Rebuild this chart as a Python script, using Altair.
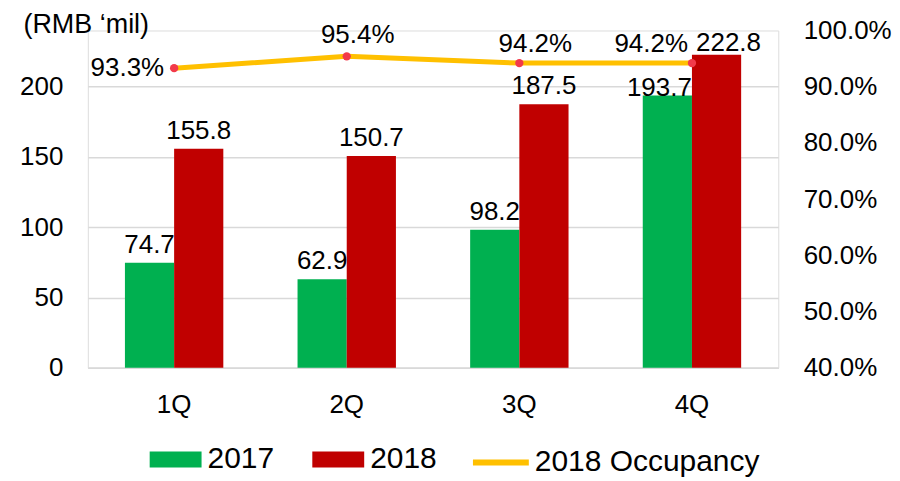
import altair as alt
import pandas as pd

# ---- data ----
quarters = ["1Q", "2Q", "3Q", "4Q"]
series = ["2017", "2018"]
revenue_2017 = [74.7, 62.9, 98.2, 193.7]
revenue_2018 = [155.8, 150.7, 187.5, 222.8]
occupancy_2018 = [0.933, 0.954, 0.942, 0.942]
occupancy_name = "2018 Occupancy"
left_ticks = [0, 50, 100, 150, 200]
right_ticks = [0.4, 0.5, 0.6, 0.7, 0.8, 0.9, 1.0]

bars_df = pd.DataFrame({
    "quarter": quarters * 2,
    "series": [series[0]] * len(quarters) + [series[1]] * len(quarters),
    "value": revenue_2017 + revenue_2018,
})
occ_df = pd.DataFrame({"quarter": quarters, "occ": occupancy_2018, "name": occupancy_name})

FONT = "Liberation Sans"
GREEN = "#00B050"
RED = "#C00000"
GOLD = "#FFC000"
DOT = "#F23A4A"
GRID = "#D9D9D9"

x_enc = alt.X(
    "quarter:N", sort=quarters,
    scale=alt.Scale(paddingInner=0.43, paddingOuter=0.215),
    axis=alt.Axis(title=None, labelAngle=0, labelFontSize=26, labelFont=FONT,
                  labelColor="black", labelPadding=24, ticks=False, domain=True,
                  domainColor=GRID, domainWidth=1.5),
)
xoff = alt.XOffset("series:N", sort=series, scale=alt.Scale(paddingInner=0, paddingOuter=0))

y_left = alt.Y(
    "value:Q",
    scale=alt.Scale(domain=[0, 240], nice=False, zero=True),
    axis=alt.Axis(title="(RMB \u2018mil)", titleAngle=0, titleX=-65, titleY=-6,
                  titleAlign="left", titleBaseline="middle", titleFontSize=27,
                  titleFontWeight="normal", titleFont=FONT, titleColor="black",
                  titleLimit=400,
                  values=left_ticks, labelFontSize=26, labelFont=FONT, labelColor="black",
                  labelPadding=25, ticks=False, domain=False, grid=True,
                  gridColor=GRID, gridWidth=1.5),
)

base_bars = alt.Chart(bars_df).encode(x=x_enc, xOffset=xoff, y=y_left)

bars = base_bars.mark_bar().encode(
    color=alt.Color(
        "series:N", sort=series,
        scale=alt.Scale(domain=series, range=[GREEN, RED]),
        legend=alt.Legend(title=None, orient="none", legendX=72, legendY=414,
                          direction="horizontal",
                          symbolType="M-1.625,-0.5H1.625V0.5H-1.625Z",
                          symbolSize=1024, symbolStrokeWidth=0, symbolOpacity=1,
                          labelFontSize=30, labelFont=FONT, labelColor="black",
                          labelOffset=16, columnPadding=38, padding=0, labelLimit=400),
    )
)

label_style = dict(fontSize=26, font=FONT, color="black", align="center", baseline="alphabetic")
bar_text_main = base_bars.transform_filter(alt.datum.quarter != "4Q").mark_text(dy=-10, **label_style).encode(
    text=alt.Text("value:Q", format=".1f"))
bar_text_4q17 = base_bars.transform_filter(
    (alt.datum.quarter == "4Q") & (alt.datum.series == "2017")
).mark_text(dx=-8, dy=0, **label_style).encode(text=alt.Text("value:Q", format=".1f"))
bar_text_4q18 = base_bars.transform_filter(
    (alt.datum.quarter == "4Q") & (alt.datum.series == "2018")
).mark_text(dx=12, dy=-4, **label_style).encode(text=alt.Text("value:Q", format=".1f"))

y_right = alt.Y(
    "occ:Q",
    scale=alt.Scale(domain=[0.4, 1.0], nice=False, zero=False),
    axis=alt.Axis(orient="right", title=None, values=right_ticks, format=".1%",
                  labelFontSize=26, labelFont=FONT, labelColor="black",
                  labelPadding=25, ticks=False, domain=False, grid=False),
)

base_occ = alt.Chart(occ_df).encode(x=x_enc, y=y_right)

line = base_occ.mark_line(strokeWidth=5, strokeCap="round").encode(
    stroke=alt.Stroke(
        "name:N",
        scale=alt.Scale(domain=[occupancy_name], range=[GOLD]),
        legend=alt.Legend(title=None, orient="none", legendX=395, legendY=414,
                          symbolType="M-1.75,0H1.75", symbolSize=1024,
                          symbolStrokeWidth=6, labelFontSize=30, labelFont=FONT,
                          labelColor="black", labelOffset=15, padding=0, labelLimit=400),
    )
)
points = base_occ.mark_circle(size=70, color=DOT, opacity=1)

occ_label_cfg = [
    ("1Q", "right", "middle", -10, 0),
    ("2Q", "center", "middle", 11, -21),
    ("3Q", "center", "middle", 16, -19),
    ("4Q", "right", "middle", -4, -19),
]
occ_texts = []
for q, al, bl, dx, dy in occ_label_cfg:
    occ_texts.append(
        base_occ.transform_filter(alt.datum.quarter == q)
        .mark_text(fontSize=26, font=FONT, color="black", align=al, baseline=bl, dx=dx, dy=dy)
        .encode(text=alt.Text("occ:Q", format=".1%"))
    )

left = alt.layer(bars, bar_text_main, bar_text_4q17, bar_text_4q18)
right = alt.layer(line, points, *occ_texts)

chart = (
    alt.layer(left, right)
    .resolve_scale(y="independent")
    .properties(
        width=692, height=338,
        autosize=alt.AutoSizeParams(type="none"),
        padding={"left": 80, "top": 22, "right": 114, "bottom": 112},
    )
    .configure_view(stroke=None)
    .configure(background="white")
)

chart.save("out.html", embed_options={"renderer": "svg", "actions": False})
